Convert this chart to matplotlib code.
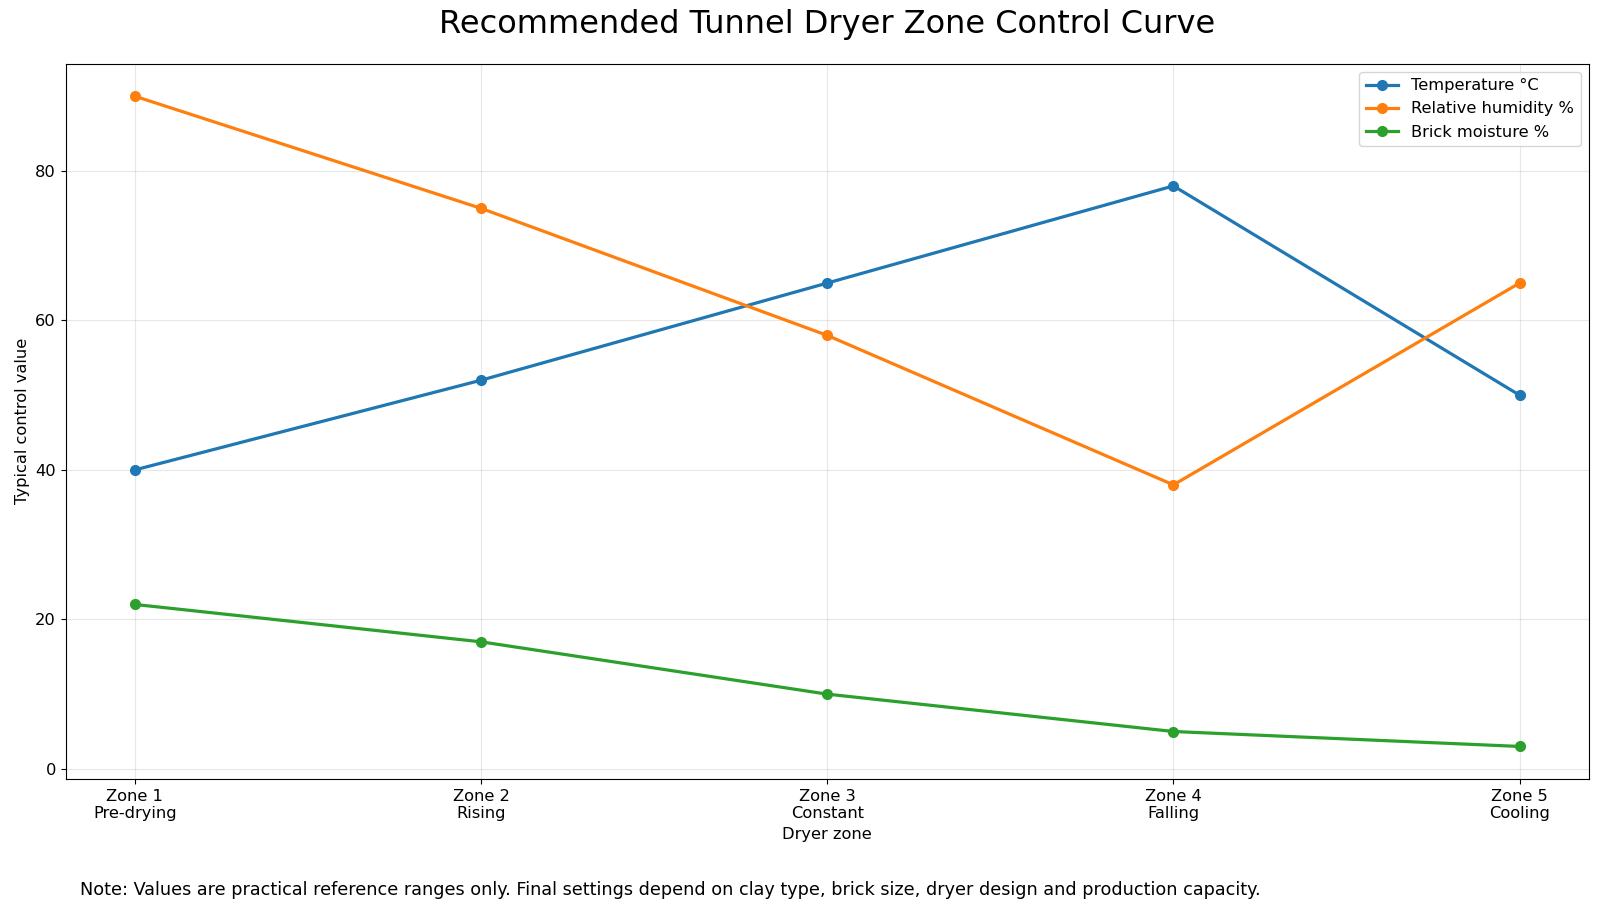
import matplotlib
matplotlib.use("Agg")
import matplotlib.pyplot as plt

# zone labels and typical control values
zones = ["Zone 1\nPre-drying", "Zone 2\nRising", "Zone 3\nConstant", "Zone 4\nFalling", "Zone 5\nCooling"]
temperature = [40, 52, 65, 78, 50]
humidity = [90, 75, 58, 38, 65]
moisture = [22, 17, 10, 5, 3]

fig, ax = plt.subplots(figsize=(16, 9.1), dpi=100)
x = list(range(len(zones)))

ax.plot(x, temperature, marker="o", linewidth=2.3, markersize=7, label="Temperature °C")
ax.plot(x, humidity, marker="o", linewidth=2.3, markersize=7, label="Relative humidity %")
ax.plot(x, moisture, marker="o", linewidth=2.3, markersize=7, label="Brick moisture %")

ax.set_xticks(x)
ax.set_xticklabels(zones, fontsize=11.7)
ax.tick_params(axis="y", labelsize=11.7)
ax.set_xlabel("Dryer zone", fontsize=11.7)
ax.set_ylabel("Typical control value", fontsize=11.7)
ax.set_title("Recommended Tunnel Dryer Zone Control Curve", fontsize=23, pad=22)
ax.grid(True, alpha=0.3)
ax.legend(loc="upper right", fontsize=11.7)

fig.subplots_adjust(left=0.041, right=0.993, top=0.930, bottom=0.144)
fig.text(0.05, 0.017, "Note: Values are practical reference ranges only. Final settings depend on clay type, "
         "brick size, dryer design and production capacity.", fontsize=12.7)

fig.savefig("out.png", dpi=100)
